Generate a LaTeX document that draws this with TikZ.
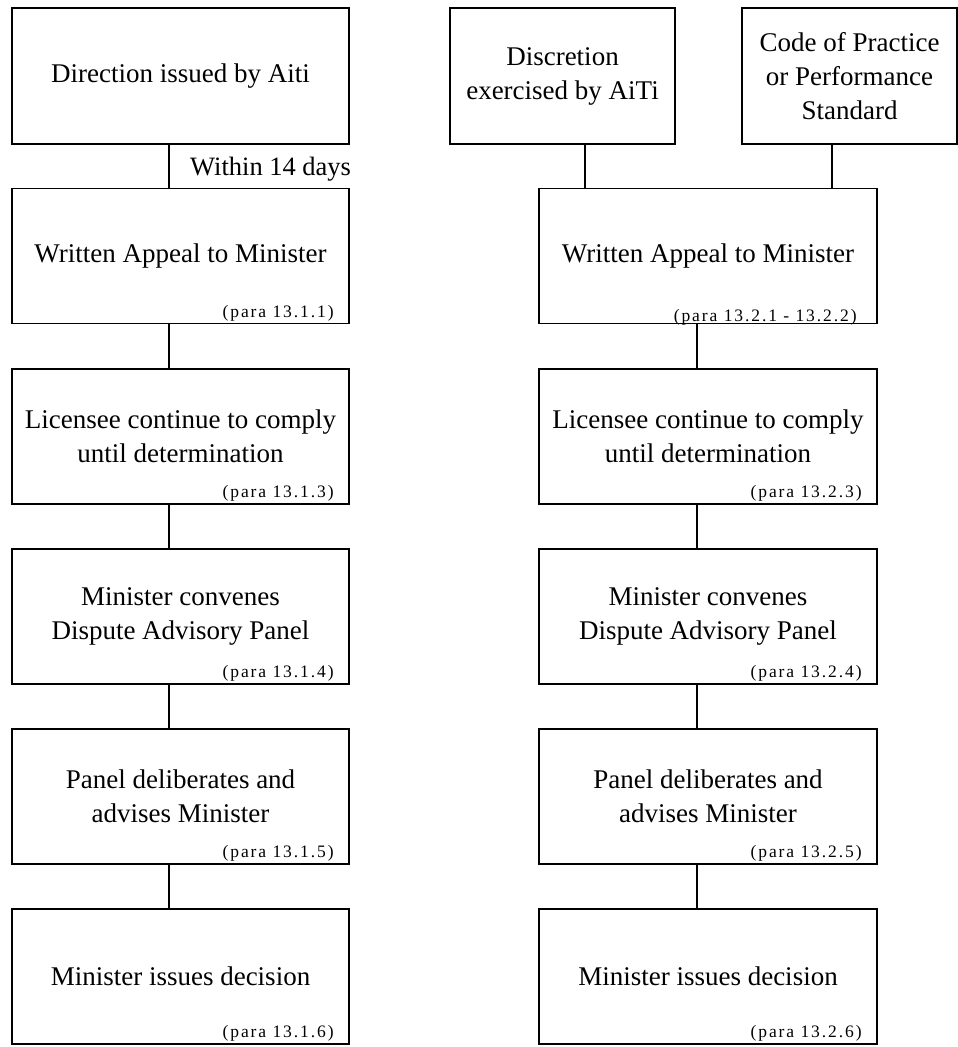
\documentclass[tikz,border=0pt]{standalone}
\usepackage{fontspec}
\setmainfont{Liberation Serif}
\newfontfamily\parafont[LetterSpace=11]{Liberation Serif}
\usetikzlibrary{calc}
\begin{document}
\begin{tikzpicture}[x=1pt,y=-1pt,
  box/.style={draw, line width=1.8pt, align=center, font=\fontsize{27}{34}\selectfont, inner sep=0pt},
  lbox/.style={box, minimum width=337pt, minimum height=135pt},
  rbox/.style={box, minimum width=338pt, minimum height=135pt},
  para/.style={font=\parafont\fontsize{17.5}{19}\selectfont, anchor=base east, inner sep=0pt},
  lbl/.style={font=\fontsize{26.5}{34}\selectfont, anchor=base west, inner sep=0pt},
  conn/.style={line width=1.8pt}]
\useasboundingbox (0,0) rectangle (958,1047);
% left column
\node[lbox, minimum height=136pt] (l1) at (180.5,76) {Direction issued by Aiti};
\node[lbox] (l2) at (180.5,256) {Written Appeal to Minister};
\node[lbox] (l3) at (180.5,436.5) {Licensee continue to comply\\until determination};
\node[lbox] (l4) at (180.5,616.5) {Minister convenes\\Dispute Advisory Panel};
\node[lbox] (l5) at (180.5,796.5) {Panel deliberates and\\advises Minister};
\node[lbox] (l6) at (180.5,976.5) {Minister issues decision};
% right column
\node[box, minimum width=225pt, minimum height=136pt] (ra) at (562.5,76) {Discretion\\exercised by AiTi};
\node[box, minimum width=215pt, minimum height=136pt] (rb) at (849.5,76) {Code of Practice\\or Performance\\Standard};
\node[rbox] (r2) at (708,256) {Written Appeal to Minister};
\node[rbox] (r3) at (708,436.5) {Licensee continue to comply\\until determination};
\node[rbox] (r4) at (708,616.5) {Minister convenes\\Dispute Advisory Panel};
\node[rbox] (r5) at (708,796.5) {Panel deliberates and\\advises Minister};
\node[rbox] (r6) at (708,976.5) {Minister issues decision};
% para labels
\node[para] (pl2) at ($(l2.south east)+(-16,-7)$) {(para 13.1.1)};
\node[para] (pl3) at ($(l3.south east)+(-16,-7)$) {(para 13.1.3)};
\node[para] (pl4) at ($(l4.south east)+(-16,-7)$) {(para 13.1.4)};
\node[para] (pl5) at ($(l5.south east)+(-16,-7)$) {(para 13.1.5)};
\node[para] (pl6) at ($(l6.south east)+(-16,-7)$) {(para 13.1.6)};
\node[para] (pr2) at ($(r2.south east)+(-21,-3)$) {(para 13.2.1 - 13.2.2)};
\node[para] (pr3) at ($(r3.south east)+(-16,-7)$) {(para 13.2.3)};
\node[para] (pr4) at ($(r4.south east)+(-16,-7)$) {(para 13.2.4)};
\node[para] (pr5) at ($(r5.south east)+(-16,-7)$) {(para 13.2.5)};
\node[para] (pr6) at ($(r6.south east)+(-16,-7)$) {(para 13.2.6)};
% connectors
\coordinate (lx) at (169,0);
\coordinate (rx) at (697,0);
\coordinate (ax) at (585,0);
\coordinate (bx) at (832,0);
\draw[conn] (l1.south -| lx) -- (l2.north -| lx);
\draw[conn] (l2.south -| lx) -- (l3.north -| lx);
\draw[conn] (l3.south -| lx) -- (l4.north -| lx);
\draw[conn] (l4.south -| lx) -- (l5.north -| lx);
\draw[conn] (l5.south -| lx) -- (l6.north -| lx);
\draw[conn] (ra.south -| ax) -- (r2.north -| ax);
\draw[conn] (rb.south -| bx) -- (r2.north -| bx);
\draw[conn] (r2.south -| rx) -- (r3.north -| rx);
\draw[conn] (r3.south -| rx) -- (r4.north -| rx);
\draw[conn] (r4.south -| rx) -- (r5.north -| rx);
\draw[conn] (r5.south -| rx) -- (r6.north -| rx);
\node[lbl] (w14) at (190,175) {Within 14 days};
\end{tikzpicture}
\end{document}
